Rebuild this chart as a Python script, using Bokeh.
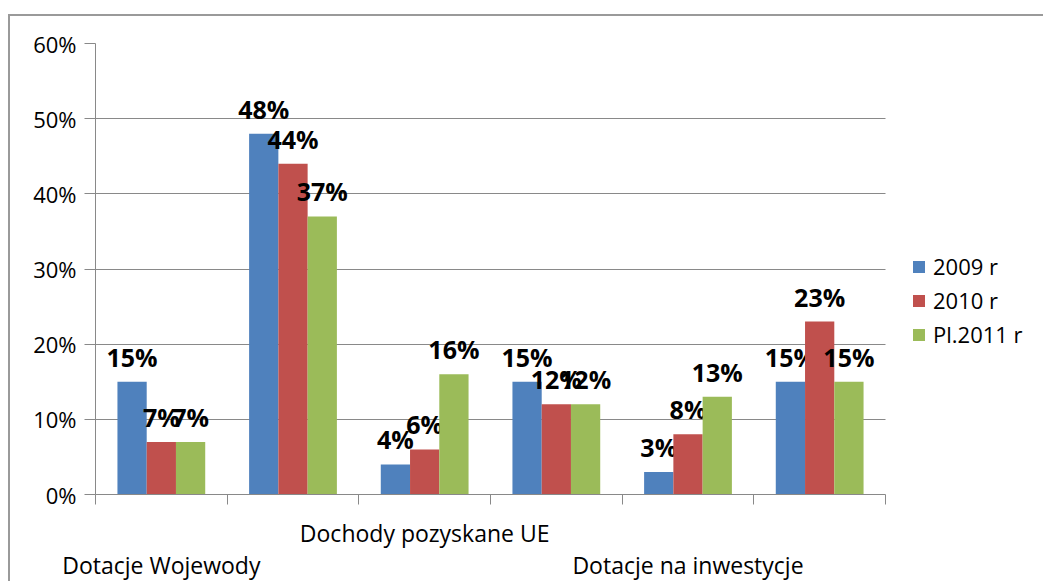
from bokeh.plotting import figure
from bokeh.models import (ColumnDataSource, FixedTicker, Legend, LegendItem,
                          PrintfTickFormatter, Range1d, BoxAnnotation)
from bokeh.core.properties import value
from bokeh.embed import file_html
from bokeh.resources import INLINE

# ---- data ----
categories = ["Dotacje Wojewody", "", "Dochody pozyskane UE", "", "Dotacje na inwestycje", ""]
series_names = ["2009 r", "2010 r", "Pl.2011 r"]
s2009 = [15, 48, 4, 15, 3, 15]
s2010 = [7, 44, 6, 12, 8, 23]
s2011 = [7, 37, 16, 12, 13, 15]
y_ticks = [0, 10, 20, 30, 40, 50, 60]

colors = ["#4F81BD", "#C0504D", "#9BBB59"]
GRAY = "#898989"
FONT = "Open Sans"

n = len(categories)
W, H = 1035, 567
LEFT, TOP, BOTTOM = 85, 27, 86
PLOT_W = 790                     # pixel width of the category area
frame_w = W - LEFT
x_end = n * frame_w / PLOT_W     # extra room on the right holds the legend

p = figure(width=W, height=H, output_backend="svg", toolbar_location=None,
           x_range=Range1d(0, x_end), y_range=Range1d(0, 60),
           min_border_left=LEFT, min_border_right=0, min_border_top=TOP, min_border_bottom=BOTTOM,
           margin=(16, 0, 0, 10))
p.styles = {"box-shadow": "-2px -2px 0 0 #9a9a9a"}
p.outline_line_color = None
p.background_fill_color = "white"
p.border_fill_color = "white"

bw = 1.0 / 1.5 / 3.0
offsets = [-bw, 0.0, bw]
renderers = []
for vals, off, col in zip([s2009, s2010, s2011], offsets, colors):
    xs = [i + 0.5 + off for i in range(n)]
    src = ColumnDataSource(dict(x=xs, top=vals, lab=[f"{v}%" for v in vals]))
    r = p.vbar(x="x", top="top", width=bw, bottom=0, source=src,
               fill_color=col, line_color=None)
    renderers.append(r)
    p.text(x="x", y="top", text="lab", source=src, text_align="center",
           text_baseline="alphabetic", y_offset=-25,
           text_font=value(FONT), text_font_style="bold", text_font_size="25px",
           text_color="black")

# y axis
yax = p.yaxis[0]
yax.ticker = FixedTicker(ticks=y_ticks)
yax.formatter = PrintfTickFormatter(format="%d%%")
yax.axis_line_color = GRAY
yax.major_tick_line_color = GRAY
yax.major_tick_out = 11
yax.major_tick_in = 0
yax.minor_tick_line_color = None
yax.major_label_standoff = 8
yax.major_label_text_font = FONT
yax.major_label_text_font_size = "22px"
yax.major_label_text_color = "black"

# x axis (labels at every other category, staggered; ticks at boundaries)
xax = p.xaxis[0]
label_pos = [i + 0.5 for i, c in enumerate(categories) if c]
overrides = {}
row = 0
for i, c in enumerate(categories):
    if c:
        overrides[i + 0.5] = ("\n" + c) if row % 2 == 0 else c
        row += 1
xax.ticker = FixedTicker(ticks=label_pos, minor_ticks=list(range(n + 1)))
xax.bounds = (0, n)
xax.major_label_overrides = overrides
xax.major_tick_line_color = None
xax.major_tick_out = 0
xax.major_tick_in = 0
xax.minor_tick_line_color = GRAY
xax.minor_tick_out = 10
xax.minor_tick_in = 0
xax.axis_line_color = GRAY
xax.major_label_standoff = 12
xax.major_label_text_font = FONT
xax.major_label_text_font_size = "23px"
xax.major_label_text_line_height = 1.0
xax.major_label_text_color = "black"

p.xgrid.grid_line_color = None
p.ygrid.grid_line_color = GRAY
p.ygrid.ticker = FixedTicker(ticks=y_ticks)
grid = p.ygrid[0]
if "cross_bounds" in grid.properties():
    grid.cross_bounds = (0, n)
else:
    # mask grid lines in the legend area
    p.add_layout(BoxAnnotation(left=n, fill_color="white", fill_alpha=1,
                               line_color=None, level="glyph"))

legend = Legend(items=[LegendItem(label=s, renderers=[r]) for s, r in zip(series_names, renderers)],
                location=(816, 145), glyph_width=15, glyph_height=15, label_standoff=7,
                spacing=4, padding=0, margin=0, border_line_color=None,
                background_fill_alpha=0, label_text_font=FONT,
                label_text_font_size="22px", label_text_color="black")
p.add_layout(legend, "center")

open("out.html", "w").write(file_html(p, INLINE))
